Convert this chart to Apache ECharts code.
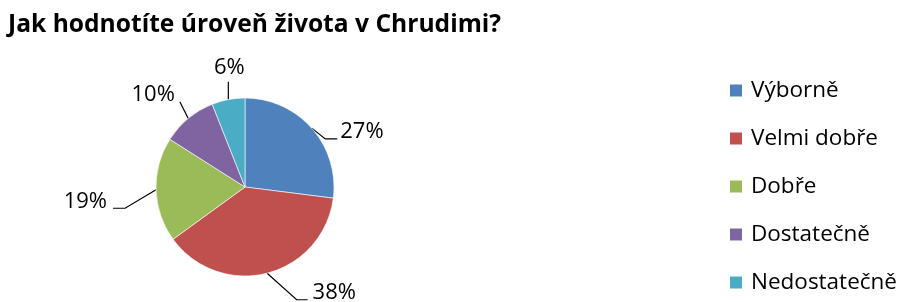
<!DOCTYPE html>
<html><head><meta charset="utf-8">
<script src="https://cdn.jsdelivr.net/npm/echarts@6/dist/echarts.min.js"></script>
<style>html,body{margin:0;padding:0;background:#fff}#c{width:901px;height:302px}</style>
</head><body><div id="c"></div>
<script>
const title = "Jak hodnotíte úroveň života v Chrudimi?";
const categories = ["Výborně", "Velmi dobře", "Dobře", "Dostatečně", "Nedostatečně"];
const values = [27, 38, 19, 10, 6];
const colors = ["#4F81BD", "#C0504D", "#9BBB59", "#8064A2", "#4BACC6"];
// label placement tweaks (offset from default, leader tail length, gap)
const labelShift = [[1, 13], [25, 6], [-23, 11], [11, -15], [36, -18]];
const labelTail = [12, 11, 12, 0, 0];
const labelGap = [3, 5, 6, 5, 6];
const FONT = "Open Sans";
const chart = echarts.init(document.getElementById('c'));
chart.setOption({
  animation: false,
  title: { text: title, left: 8, top: 12, padding: 0, textStyle: { fontFamily: FONT, fontWeight: 'bold', fontSize: 24.6, color: '#000' } },
  legend: {
    orient: 'vertical', left: 728, top: 79, padding: 0, itemWidth: 14, itemHeight: 14, itemGap: 25,
    icon: 'rect',
    textStyle: { fontFamily: FONT, fontSize: 22.5, color: '#000', padding: [0, 0, 0, 3] },
    data: categories
  },
  series: [{
    type: 'pie', center: [245, 187], radius: 89, startAngle: 90, clockwise: true,
    color: colors,
    itemStyle: { borderColor: '#fff', borderWidth: 0.6 },
    label: { show: true, formatter: p => Math.round(p.value) + '%', fontFamily: FONT, fontSize: 22, color: '#000' },
    labelLine: { show: true, length: 14, length2: 12, lineStyle: { color: '#000', width: 1.2 } },
    labelLayout: function (p) {
      const i = p.dataIndex, s = labelShift[i];
      const r = p.labelRect;
      const x = r.x + s[0], y = r.y + s[1], w = r.width, h = r.height;
      const p0 = p.labelLinePoints[0];
      const g = labelGap[i], t = labelTail[i];
      let pts;
      if (p0[0] >= x && p0[0] <= x + w) {
        const ey = y + h / 2 + 8 + g;
        pts = [p0, [p0[0], ey], [p0[0], ey]];
      } else if (x + w / 2 > p0[0]) {
        const ex = x - g, ey = y + h / 2 + 7;
        pts = [p0, [ex - t, ey], [ex, ey]];
      } else {
        const ex = x + w + g, ey = y + h / 2 + 7;
        pts = [p0, [ex + t, ey], [ex, ey]];
      }
      return { dx: s[0], dy: s[1], labelLinePoints: pts };
    },
    data: categories.map((c, i) => ({ name: c, value: values[i] }))
  }]
});
</script></body></html>
